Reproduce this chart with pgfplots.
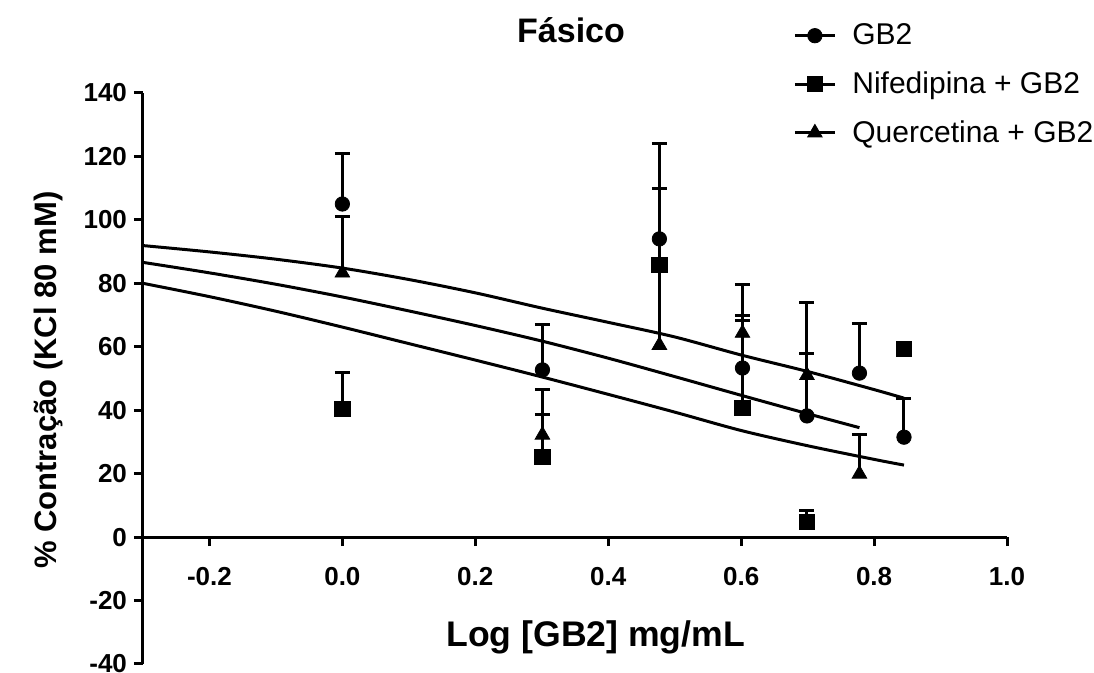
\documentclass[border=0pt]{standalone}
\usepackage{pgfplots}
\pgfplotsset{compat=1.18}
\usepackage{fontspec}
\setmainfont{Liberation Sans}

\pgfplotstableread{
x y e
0     105.0 15.8
0.301 52.7 14.2
0.477 94.0 30.2
0.602 53.3 15.1
0.699 38.2 19.8
0.778 51.7 15.5
0.845 31.5 12.3
}\gbtwo
\pgfplotstableread{
x y e
0     40.4 11.6
0.301 25.2 13.6
0.477 85.8 24.2
0.602 40.7 29.3
0.699 4.7 3.8
0.845 59.3 0
}\nife
\pgfplotstableread{
x y e
0     83.3 17.7
0.301 32.2 14.2
0.477 60.5 23.5
0.602 64.3 15.2
0.699 51.0 23.1
0.778 19.9 12.3
}\quer

\begin{document}
\begin{tikzpicture}[x=1pt,y=1pt]
\useasboundingbox (-71.5,-4.5) rectangle (475.5,332);
\begin{axis}[
  at={(0,0)}, anchor=south west,
  scale only axis, width=432pt, height=285.5pt,
  xmin=-0.3, xmax=1.0, ymin=-40, ymax=140,
  axis x line=middle, axis y line=left,
  axis line style={-, line width=1.5pt, black},
  hide obscured x ticks=false, hide obscured y ticks=false,
  xtick={-0.2,0,0.2,0.4,0.6,0.8,1.0},
  ytick={-40,-20,0,20,40,60,80,100,120,140},
  tick align=outside, major tick length=4.5pt,
  tick style={line width=1.5pt, black},
  /pgf/number format/assume math mode=true,
  x tick label style={/pgf/number format/.cd, fixed, fixed zerofill, precision=1, /tikz/.cd, font=\bfseries\fontsize{13}{15}\selectfont, yshift=-7pt},
  y tick label style={font=\bfseries\fontsize{13}{15}\selectfont},
  title={Fásico},
  title style={at={(rel axis cs:0.4954,1.0666)}, anchor=base, font=\bfseries\fontsize{17}{20}\selectfont},
  xlabel={Log [GB2] mg/mL},
  xlabel style={at={(rel axis cs:0.524,0.03)}, anchor=base, font=\bfseries\fontsize{17.8}{20}\selectfont},
  ylabel={\% Contração (KCl 80 mM)},
  ylabel style={at={(rel axis cs:0,0.497)}, anchor=center, rotate=0, yshift=47.5pt, font=\bfseries\fontsize{15.5}{18}\selectfont},
  legend style={at={(rel axis cs:0.7523,1.129)}, anchor=north west, draw=none, fill=none,
    font=\fontsize{15}{18}\selectfont, row sep=8pt, column sep=6pt, inner sep=0pt},
  legend cell align=left,
  legend image code/.code={\draw[black, line width=1.5pt] (0pt,0pt) -- (20pt,0pt);
    \draw[#1] plot coordinates {(10pt,0pt)};},
  error bars/y dir=plus, error bars/y explicit,
  error bars/error bar style={line width=1.5pt, black},
  error bars/error mark options={rotate=90, mark size=3.75pt, line width=1.5pt, black},
]
\addplot[only marks, mark=*, mark size=3.6pt, mark options={fill=black, draw=black, line width=0.4pt}]
  table[x=x, y=y, y error=e] {\gbtwo};
\addlegendentry{GB2}
\addplot[only marks, mark=square*, mark size=3.8pt, mark options={fill=black, draw=black, line width=0.4pt}]
  table[x=x, y=y, y error=e] {\nife};
\addlegendentry{Nifedipina + GB2}
\addplot[only marks, mark=triangle*, mark size=4.2pt, mark options={fill=black, draw=black, line width=0.4pt}]
  table[x=x, y=y, y error=e] {\quer};
\addlegendentry{Quercetina + GB2}

\addplot[forget plot, smooth, black, line width=1.5pt, no marks] coordinates {
(-0.3,91.9) (-0.2,89.9) (-0.1,87.6) (0,84.8) (0.1,81.2) (0.2,77.0) (0.3,72.2) (0.4,67.7) (0.5,63.1) (0.6,57.4) (0.7,52.2) (0.8,46.5) (0.845,43.8)};
\addplot[forget plot, smooth, black, line width=1.5pt, no marks] coordinates {
(-0.3,86.6) (-0.2,83.3) (-0.1,79.7) (0,75.7) (0.1,71.3) (0.2,66.7) (0.3,61.8) (0.4,56.4) (0.5,50.6) (0.6,44.7) (0.7,38.9) (0.778,34.5)};
\addplot[forget plot, smooth, black, line width=1.5pt, no marks] coordinates {
(-0.3,80.0) (-0.2,75.8) (-0.1,71.2) (0,66.2) (0.1,61.0) (0.2,55.8) (0.3,50.5) (0.4,45.0) (0.5,39.4) (0.6,33.6) (0.7,28.8) (0.8,24.5) (0.845,22.7)};
\end{axis}
\end{tikzpicture}
\end{document}
